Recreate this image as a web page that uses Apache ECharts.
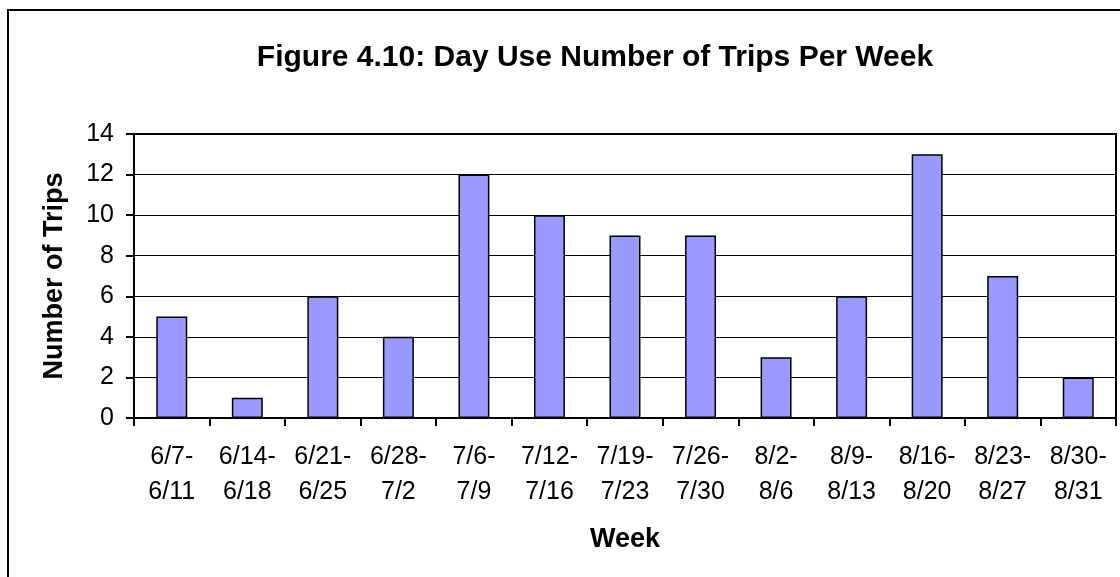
<!DOCTYPE html>
<html>
<head>
<meta charset="utf-8">
<script src="https://cdn.jsdelivr.net/npm/echarts@6/dist/echarts.min.js"></script>
<style>
  html, body { margin: 0; padding: 0; background: #fff; }
  #chart { width: 1120px; height: 577px; }
</style>
</head>
<body>
<div id="chart"></div>
<script>
const weeks = ['6/7-\n6/11', '6/14-\n6/18', '6/21-\n6/25', '6/28-\n7/2', '7/6-\n7/9', '7/12-\n7/16',
  '7/19-\n7/23', '7/26-\n7/30', '8/2-\n8/6', '8/9-\n8/13', '8/16-\n8/20', '8/23-\n8/27', '8/30-\n8/31']
const trips = [5, 1, 6, 4, 12, 10, 9, 9, 3, 6, 13, 7, 2]

const chart = echarts.init(document.getElementById('chart'))
const font = '"Liberation Sans", Arial, sans-serif'

const options = {
  animation: false,
  textStyle: { fontFamily: font, color: '#000' },
  title: {
    text: 'Figure 4.10: Day Use Number of Trips Per Week',
    left: 590,
    top: 38,
    textAlign: 'center',
    textStyle: { fontFamily: font, fontSize: 30, fontWeight: 'bold', color: '#000' }
  },
  graphic: [{
    type: 'rect',
    shape: { x: 8, y: 10, width: 1300, height: 800 },
    style: { fill: 'none', stroke: '#000', lineWidth: 2 },
    z: -1
  }],
  grid: {
    left: 134, top: 134, right: 4, bottom: 159,
    show: true, borderColor: '#000', borderWidth: 2
  },
  xAxis: {
    type: 'category',
    data: weeks,
    name: 'Week',
    nameLocation: 'middle',
    nameGap: 108,
    nameTextStyle: { fontFamily: font, fontSize: 27, fontWeight: 'bold', color: '#000' },
    axisLine: { lineStyle: { color: '#000', width: 2 } },
    axisTick: { show: true, length: 8, lineStyle: { color: '#000', width: 2 } },
    axisLabel: { margin: 22, fontSize: 25, lineHeight: 35, color: '#000', interval: 0 }
  },
  yAxis: {
    type: 'value',
    min: 0, max: 14, interval: 2,
    name: 'Number of Trips',
    nameLocation: 'middle',
    nameGap: 66,
    nameTextStyle: { fontFamily: font, fontSize: 27, fontWeight: 'bold', color: '#000' },
    axisLine: { show: true, lineStyle: { color: '#000', width: 2 } },
    axisTick: { show: true, length: 8, lineStyle: { color: '#000', width: 2 } },
    axisLabel: { margin: 20, fontSize: 25, color: '#000' },
    splitLine: { lineStyle: { color: '#000', width: 1 } }
  },
  series: [{
    type: 'bar',
    data: trips,
    barWidth: '41%',
    itemStyle: { color: '#9999FF', borderColor: '#000', borderWidth: 1.5 }
  }]
}

chart.setOption(options)

window.addEventListener('resize', function () {
  chart.resize()
})
</script>
</body>
</html>
